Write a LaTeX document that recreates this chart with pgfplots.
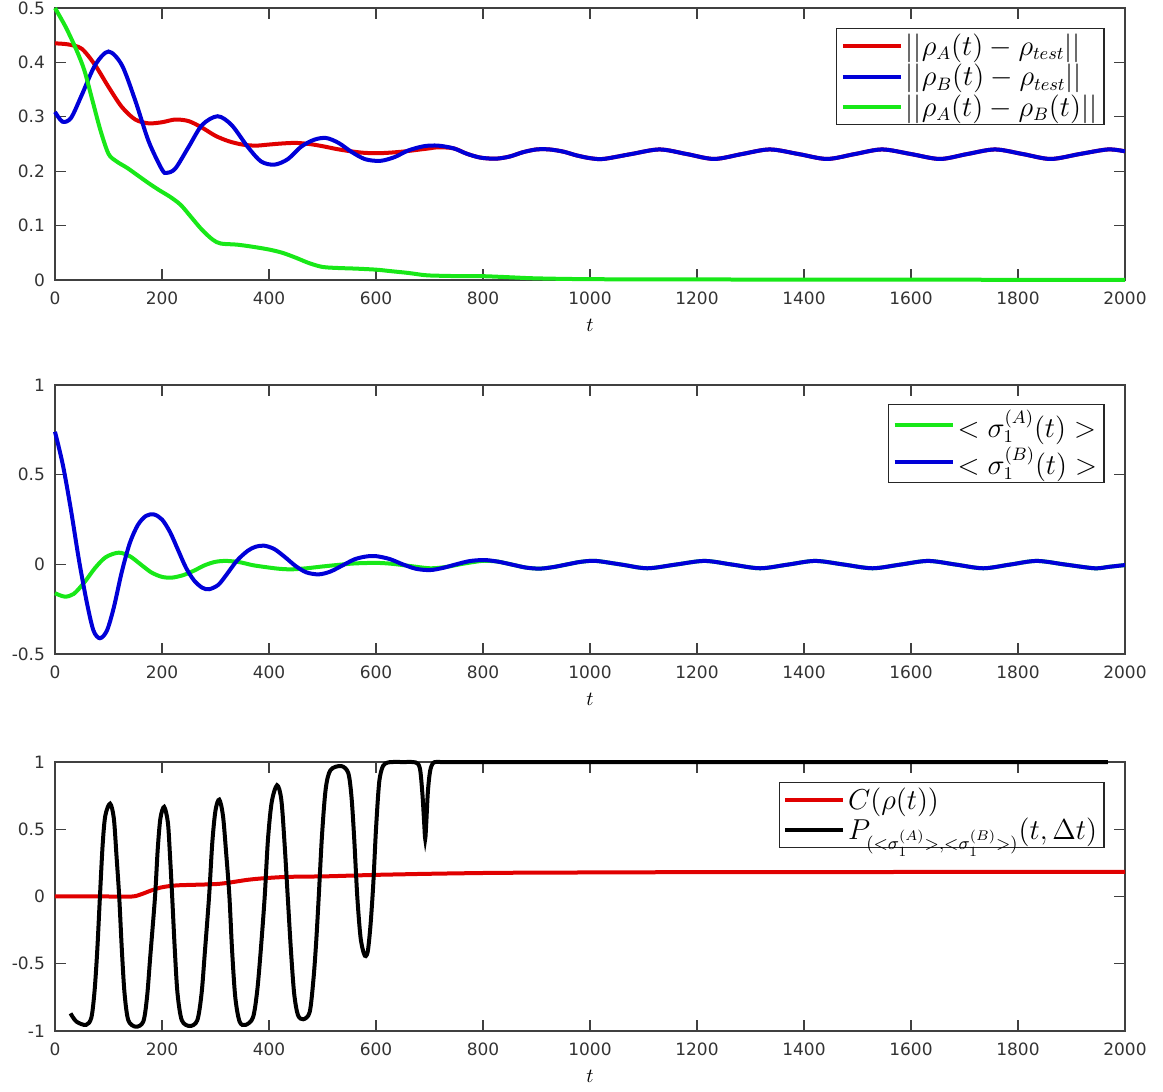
\documentclass[border=0pt]{standalone}
\usepackage{fontspec}
\setsansfont{DejaVu Sans}
\usepackage{pgfplots}
\pgfplotsset{compat=1.18}
\definecolor{mred}{HTML}{E00000}
\definecolor{mblue}{HTML}{0000D8}
\definecolor{mgreen}{HTML}{18E818}
\definecolor{axgray}{HTML}{404040}

\pgfplotsset{
  panel/.style={
    scale only axis, width=535pt,
    xmin=0, xmax=2000,
    xtick={0,200,...,2000},
    axis line style={axgray, line width=0.6pt},
    major tick length=5.3pt,
    tick style={axgray, line width=0.6pt},
    tick align=inside,
    tick label style={font=\sffamily\fontsize{8.5}{10}\selectfont, text=black!80},
    xticklabel style={yshift=-2.5pt},
    yticklabel style={xshift=-1.5pt},
    /pgf/number format/assume math mode=true,
    /pgf/number format/1000 sep={},
    xlabel={$t$},
    xlabel style={at={(axis description cs:0.5,0)}, anchor=north, yshift=-16pt, font=\fontsize{10}{12}\selectfont},
    clip=false,
    legend cell align=left,
    legend style={anchor=north east, draw=black!85, line width=0.6pt,
      font=\fontsize{13.5}{16}\selectfont, inner xsep=2pt, inner ysep=1pt,
      nodes={inner sep=1.5pt}},
    legend image code/.code={\draw[#1,line width=2pt] (0pt,0pt) -- (29pt,0pt);},
  }
}

\begin{document}
\begin{tikzpicture}
\useasboundingbox (-27.5pt,-30.5pt) rectangle (554pt,515.5pt);

% top panel: distances
\begin{axis}[panel, at={(0,375.5pt)}, anchor=south west, height=136pt,
  ymin=0, ymax=0.5, ytick={0,0.1,0.2,0.3,0.4,0.5},
  legend style={at={(0.981,0.926)}}]
\addplot[mred, line width=2pt, smooth] coordinates {
(0,0.435) (25,0.433) (50,0.425) (75,0.395) (100,0.355) (125,0.318) (150,0.295)
(175,0.288) (200,0.290) (225,0.295) (250,0.292) (275,0.280) (300,0.265) (325,0.255)
(350,0.249) (375,0.247) (400,0.249) (425,0.251) (450,0.252) (475,0.250) (500,0.246)
(525,0.241) (550,0.237) (575,0.234) (600,0.233) (625,0.234) (650,0.236) (675,0.239)
(700,0.242) (716,0.244) (745,0.242) (770,0.232) (795,0.225) (824,0.223) (850,0.227)
(875,0.235) (900,0.240) (924,0.240) (950,0.236) (975,0.229) (1000,0.224) (1025,0.2225)
(1077,0.2315) (1130,0.2400) (1181,0.2315) (1232,0.2225) (1284,0.2315) (1336,0.2400)
(1390,0.2315) (1443,0.2225) (1495,0.2315) (1546,0.2400) (1600,0.2315) (1654,0.2225)
(1705,0.2315) (1757,0.2400) (1809,0.2315) (1861,0.2225) (1915,0.2315) (1968,0.2400)
(2000,0.2365)};
\addlegendentry{$||\rho_A(t)-\rho_{test}||$}
\addplot[mblue, line width=2pt, smooth] coordinates {
(0,0.309) (14,0.291) (30,0.298) (50,0.340) (75,0.395) (100,0.420) (125,0.395)
(150,0.330) (175,0.255) (200,0.203) (209,0.197) (225,0.205) (250,0.245) (275,0.285)
(304,0.301) (330,0.285) (360,0.245) (385,0.218) (410,0.212) (435,0.222) (460,0.245)
(485,0.258) (507,0.261) (530,0.252) (555,0.235) (580,0.222) (608,0.219) (635,0.226)
(660,0.238) (690,0.246) (716,0.247) (745,0.242) (770,0.232) (795,0.225) (824,0.223)
(850,0.227) (875,0.235) (900,0.240) (924,0.240) (950,0.236) (975,0.229) (1000,0.224)
(1025,0.2225) (1077,0.2315) (1130,0.2400) (1181,0.2315) (1232,0.2225) (1284,0.2315)
(1336,0.2400) (1390,0.2315) (1443,0.2225) (1495,0.2315) (1546,0.2400) (1600,0.2315)
(1654,0.2225) (1705,0.2315) (1757,0.2400) (1809,0.2315) (1861,0.2225) (1915,0.2315)
(1968,0.2400) (2000,0.2365)};
\addlegendentry{$||\rho_B(t)-\rho_{test}||$}
\addplot[mgreen, line width=2pt, smooth] coordinates {
(0,0.500) (20,0.465) (40,0.423) (55,0.385) (70,0.330) (85,0.275) (100,0.232)
(115,0.218) (135,0.206) (155,0.192) (175,0.178) (195,0.165) (215,0.153) (235,0.138)
(255,0.115) (275,0.092) (295,0.074) (310,0.067) (340,0.065) (370,0.061) (400,0.056)
(425,0.050) (450,0.041) (475,0.031) (500,0.024) (530,0.022) (560,0.021) (600,0.019)
(630,0.016) (660,0.013) (690,0.009) (710,0.008) (760,0.007) (800,0.007) (850,0.005)
(900,0.003) (1000,0.0015) (1200,0.001) (1600,0.0005) (2000,0.0004)};
\addlegendentry{$||\rho_A(t)-\rho_B(t)||$}
\end{axis}

% middle panel: expectation values
\begin{axis}[panel, at={(0,188.5pt)}, anchor=south west, height=134.5pt,
  ymin=-0.5, ymax=1, ytick={-0.5,0,0.5,1},
  legend style={at={(0.981,0.929)}}]
\addplot[mgreen, line width=2pt, smooth] coordinates {
(0,-0.161) (18,-0.180) (35,-0.165) (55,-0.100) (75,-0.020) (95,0.040) (119,0.065)
(140,0.045) (160,0.000) (180,-0.045) (200,-0.070) (219,-0.074) (240,-0.060) (260,-0.035)
(280,-0.005) (300,0.014) (320,0.019) (345,0.012) (370,-0.005) (400,-0.018) (420,-0.025)
(442,-0.028) (470,-0.022) (500,-0.012) (530,-0.003) (560,0.005) (600,0.008) (630,0.003)
(660,-0.008) (701,-0.022) (730,-0.015) (760,0.002) (785,0.014) (802,0.020) (828,0.015)
(855,-0.002) (880,-0.018) (906,-0.024) (932,-0.015) (958,0.000) (983,0.014) (1011,0.019)
(1059,-0.0015) (1107,-0.022) (1160,-0.0015) (1214,0.019) (1266,-0.0015) (1318,-0.022)
(1370,-0.0015) (1421,0.019) (1475,-0.0015) (1528,-0.022) (1580,-0.0015) (1632,0.019)
(1684,-0.0015) (1735,-0.022) (1785,-0.0015) (1835,0.019) (1889,-0.0015) (1943,-0.022)
(1970,-0.014) (2000,-0.004)};
\addlegendentry{$<\sigma_1^{(A)}(t)>$}
\addplot[mblue, line width=2pt, smooth] coordinates {
(0,0.739) (15,0.550) (30,0.300) (45,0.020) (60,-0.220) (72,-0.370) (84,-0.412)
(97,-0.370) (110,-0.240) (125,-0.040) (140,0.120) (155,0.220) (170,0.270) (185,0.278)
(200,0.250) (215,0.180) (230,0.080) (245,-0.020) (260,-0.090) (275,-0.130) (288,-0.139)
(305,-0.115) (320,-0.060) (340,0.020) (360,0.075) (375,0.098) (391,0.104) (410,0.085)
(430,0.040) (450,-0.010) (470,-0.045) (493,-0.056) (515,-0.040) (540,-0.002) (560,0.028)
(580,0.043) (599,0.046) (625,0.030) (650,0.000) (675,-0.025) (701,-0.032) (725,-0.020)
(750,0.000) (775,0.018) (802,0.024) (828,0.015) (855,-0.002) (880,-0.018) (906,-0.024)
(932,-0.015) (958,0.000) (983,0.014) (1011,0.019) (1059,-0.0015) (1107,-0.022)
(1160,-0.0015) (1214,0.019) (1266,-0.0015) (1318,-0.022) (1370,-0.0015) (1421,0.019)
(1475,-0.0015) (1528,-0.022) (1580,-0.0015) (1632,0.019) (1684,-0.0015) (1735,-0.022)
(1785,-0.0015) (1835,0.019) (1889,-0.0015) (1943,-0.022) (1970,-0.014) (2000,-0.004)};
\addlegendentry{$<\sigma_1^{(B)}(t)>$}
\end{axis}

% bottom panel: concurrence and correlation
\begin{axis}[panel, at={(0,0)}, anchor=south west, height=134.5pt,
  ymin=-1, ymax=1, ytick={-1,-0.5,0,0.5,1},
  legend style={at={(0.981,0.926)}}]
\addplot[mred, line width=2pt, smooth] coordinates {
(0,0) (100,0) (144,0) (160,0.015) (180,0.045) (198,0.067) (215,0.078) (234,0.084)
(260,0.087) (299,0.092) (320,0.100) (340,0.112) (360,0.124) (385,0.134) (410,0.141)
(435,0.146) (470,0.148) (507,0.150) (550,0.155) (601,0.161) (650,0.165) (687,0.168)
(750,0.172) (831,0.176) (950,0.178) (1018,0.179) (1200,0.181) (1500,0.182) (2000,0.183)};
\addlegendentry{$C(\rho(t))$}
\addplot[black, line width=2pt, smooth] coordinates {
(29,-0.869) (40,-0.930) (58,-0.955) (68,-0.900) (74,-0.700) (79,-0.400) (84,0.000)
(89,0.380) (94,0.600) (103,0.690) (110,0.580) (115,0.300) (120,0.000) (125,-0.400)
(130,-0.720) (137,-0.920) (151,-0.968) (165,-0.930) (172,-0.750) (178,-0.450) (187,0.000)
(192,0.350) (197,0.580) (204,0.666) (211,0.550) (215,0.300) (219,0.000) (224,-0.400)
(229,-0.720) (237,-0.920) (252,-0.963) (266,-0.920) (274,-0.720) (280,-0.420) (288,0.000)
(294,0.400) (300,0.640) (307,0.720) (314,0.600) (320,0.320) (326,0.000) (331,-0.400)
(337,-0.750) (345,-0.930) (356,-0.955) (370,-0.900) (378,-0.700) (385,-0.380) (392,0.000)
(398,0.420) (405,0.700) (415,0.827) (423,0.720) (429,0.400) (435,0.000) (441,-0.400)
(447,-0.720) (454,-0.880) (464,-0.913) (476,-0.860) (483,-0.620) (488,-0.350) (493,0.000)
(499,0.450) (506,0.800) (515,0.940) (535,0.970) (548,0.920) (554,0.750) (559,0.450)
(565,0.000) (571,-0.300) (577,-0.420) (581,-0.443) (585,-0.400) (590,-0.200) (595,0.100)
(600,0.500) (606,0.850) (613,0.970) (622,0.996) (632,1.000) (645,1.000) (657,1.000)
(667,1.000) (674,0.997) (679,0.985) (683,0.930) (687,0.750) (690,0.550) (692,0.430)
(694,0.550) (697,0.780) (701,0.930) (706,0.990) (712,1.000) (720,1.000) (735,1.000)
(760,1.000) (800,1.000) (900,1.000) (1000,1.000) (1200,1.000) (1500,1.000) (1968,1.000)};
\addlegendentry{$P_{(<\sigma_1^{(A)}>,<\sigma_1^{(B)}>)}(t,\Delta t)$}
\end{axis}
\end{tikzpicture}
\end{document}
